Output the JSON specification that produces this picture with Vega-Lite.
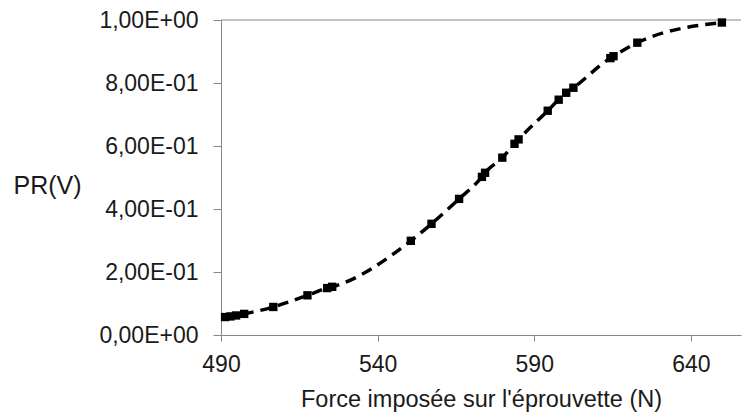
{
  "$schema": "https://vega.github.io/schema/vega-lite/v6.json",
  "autosize": "none",
  "width": 520,
  "height": 315,
  "padding": {"left": 221, "top": 20, "right": 2, "bottom": 81},
  "background": "white",
  "config": {
    "view": {"stroke": null},
    "font": "Liberation Sans",
    "axis": {
      "labelFont": "Liberation Sans",
      "titleFont": "Liberation Sans",
      "labelColor": "#1a1a1a",
      "titleColor": "#1a1a1a",
      "domainColor": "#868686",
      "tickColor": "#868686",
      "labelFontSize": 23,
      "titleFontSize": 23.5,
      "titleFontWeight": "normal",
      "grid": false
    }
  },
  "data": {
    "values": [
      {"force": 491.3, "p": 0.057},
      {"force": 493.0, "p": 0.059},
      {"force": 494.8, "p": 0.062},
      {"force": 497.4, "p": 0.067},
      {"force": 506.7, "p": 0.089},
      {"force": 517.6, "p": 0.126},
      {"force": 523.9, "p": 0.149},
      {"force": 525.5, "p": 0.153},
      {"force": 550.6, "p": 0.299},
      {"force": 557.2, "p": 0.353},
      {"force": 566.0, "p": 0.432},
      {"force": 573.3, "p": 0.502},
      {"force": 574.3, "p": 0.515},
      {"force": 579.8, "p": 0.563},
      {"force": 583.7, "p": 0.607},
      {"force": 585.0, "p": 0.621},
      {"force": 594.3, "p": 0.712},
      {"force": 597.8, "p": 0.747},
      {"force": 600.2, "p": 0.769},
      {"force": 602.5, "p": 0.785},
      {"force": 614.3, "p": 0.879},
      {"force": 615.3, "p": 0.885},
      {"force": 622.9, "p": 0.928},
      {"force": 649.9, "p": 0.992}
    ]
  },
  "encoding": {
    "x": {
      "field": "force",
      "type": "quantitative",
      "scale": {"domain": [490, 656], "nice": false, "zero": false},
      "axis": {
        "title": "Force imposée sur l'éprouvette (N)",
        "values": [490, 540, 590, 640],
        "tickSize": 6,
        "labelPadding": 12,
        "titlePadding": 11,
        "labelFlush": false
      }
    },
    "y": {
      "field": "p",
      "type": "quantitative",
      "scale": {"domain": [0, 1], "nice": false},
      "axis": {
        "title": "PR(V)",
        "values": [0, 0.2, 0.4, 0.6, 0.8, 1],
        "tickSize": 8,
        "labelPadding": 15,
        "labelExpr": "datum.value == 0 ? '0,00E+00' : datum.value == 1 ? '1,00E+00' : replace(format(datum.value * 10, '.2f'), '.', ',') + 'E-01'",
        "titleAngle": 0,
        "titleAlign": "left",
        "titleBaseline": "middle",
        "titleX": -208,
        "titleY": 165,
        "titleFontSize": 25
      }
    }
  },
  "layer": [
    {
      "data": {"values": [{"top": 1}]},
      "mark": {"type": "rule", "color": "#868686", "strokeWidth": 1},
      "encoding": {"y": {"field": "top", "type": "quantitative"}, "x": null}
    },
    {
      "mark": {"type": "line", "color": "black", "strokeWidth": 3.5, "strokeDash": [11, 7], "interpolate": "monotone"}
    },
    {
      "mark": {"type": "point", "shape": "square", "filled": true, "color": "black", "size": 70, "opacity": 1}
    }
  ]
}
